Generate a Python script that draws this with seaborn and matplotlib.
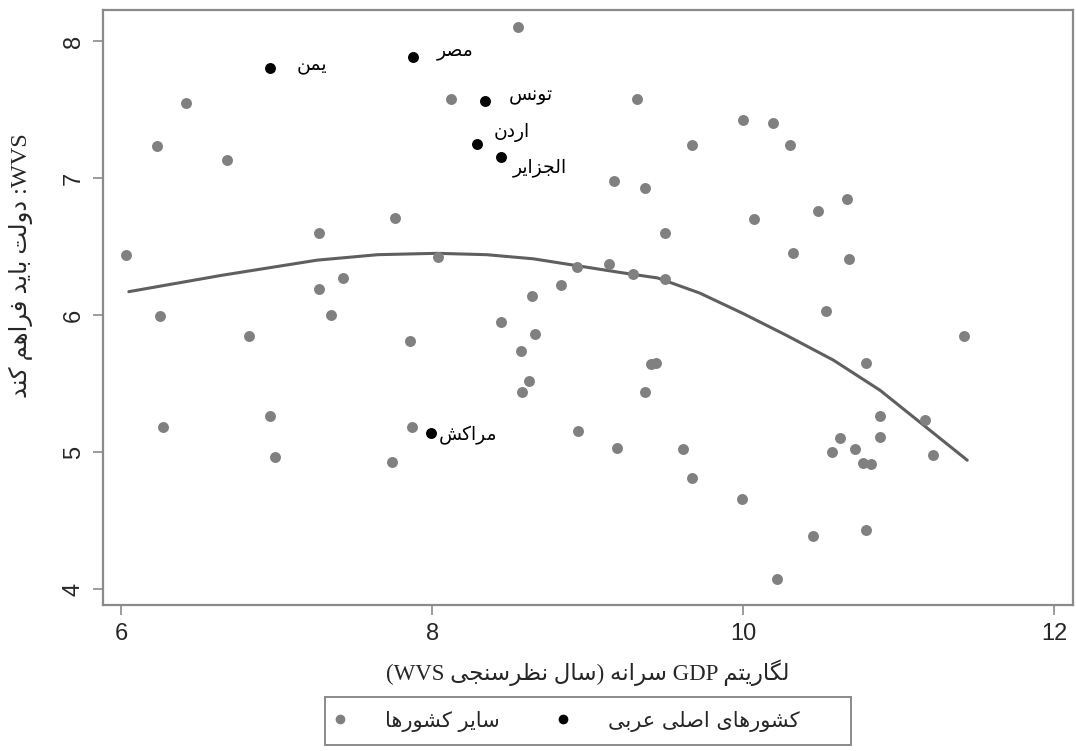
import re
import numpy as np
import pandas as pd
import matplotlib
matplotlib.use("Agg")
import matplotlib.pyplot as plt
from matplotlib.lines import Line2D
from matplotlib.patches import Rectangle
import seaborn as sns

# ---------------- data ----------------
other_x = [6.03, 6.23, 6.42, 6.25, 6.27, 6.68, 6.82, 6.96, 6.99, 7.27, 7.27, 7.43, 7.35,
           7.76, 7.86, 7.74, 7.87, 8.12, 8.04, 8.55, 8.44, 8.64, 8.57, 8.66, 8.62, 8.58,
           8.83, 8.94, 8.93, 9.14, 9.17, 9.19, 9.29, 9.32, 9.37, 9.37, 9.41, 9.44, 9.50,
           9.50, 9.61, 9.67, 9.67, 9.99, 10.00, 10.07, 10.19, 10.22, 10.30, 10.32, 10.45,
           10.48, 10.53, 10.57, 10.62, 10.67, 10.68, 10.72, 10.77, 10.82, 10.88, 10.88,
           10.79, 10.79, 11.17, 11.22, 11.42]
other_y = [6.44, 7.23, 7.55, 5.99, 5.18, 7.13, 5.85, 5.26, 4.96, 6.60, 6.19, 6.27, 6.00,
           6.71, 5.81, 4.93, 5.18, 7.58, 6.42, 8.10, 5.95, 6.14, 5.74, 5.86, 5.52, 5.44,
           6.22, 5.15, 6.35, 6.37, 6.98, 5.03, 6.30, 7.58, 6.93, 5.44, 5.64, 5.65, 6.60,
           6.26, 5.02, 7.24, 4.81, 4.66, 7.42, 6.70, 7.40, 4.07, 7.24, 6.45, 4.39,
           6.76, 6.03, 5.00, 5.10, 6.85, 6.41, 5.02, 4.92, 4.91, 5.26, 5.11,
           5.65, 4.43, 5.23, 4.98, 5.85]

arab_names = ["یمن", "مصر", "تونس", "اردن", "الجزایر", "مراکش"]
arab_x = [6.96, 7.88, 8.34, 8.29, 8.44, 7.99]
arab_y = [7.80, 7.88, 7.56, 7.25, 7.15, 5.14]

fit_x = [6.05, 6.65, 7.26, 7.65, 8.03, 8.35, 8.65, 8.93, 9.21, 9.45, 9.72, 10.00, 10.28,
         10.58, 10.88, 11.44]
fit_y = [6.17, 6.29, 6.40, 6.44, 6.45, 6.44, 6.41, 6.36, 6.31, 6.27, 6.16, 6.01, 5.85,
         5.67, 5.45, 4.94]

x_ticks = [6, 8, 10, 12]
y_ticks = [4, 5, 6, 7, 8]

x_title = "لگاریتم GDP سرانه (سال نظرسنجی WVS)"
y_title = "WVS: دولت باید فراهم کند"
legend_other = "سایر کشورها"
legend_arab = "کشورهای اصلی عربی"

# ---------------- Arabic-script shaping (presentation forms + visual order) ----------------
FORMS = {
    "ا": ("\uFE8D", "\uFE8E"),
    "ب": ("\uFE8F", "\uFE90", "\uFE91", "\uFE92"),
    "ت": ("\uFE95", "\uFE96", "\uFE97", "\uFE98"),
    "ج": ("\uFE9D", "\uFE9E", "\uFE9F", "\uFEA0"),
    "د": ("\uFEA9", "\uFEAA"),
    "ر": ("\uFEAD", "\uFEAE"),
    "ز": ("\uFEAF", "\uFEB0"),
    "س": ("\uFEB1", "\uFEB2", "\uFEB3", "\uFEB4"),
    "ش": ("\uFEB5", "\uFEB6", "\uFEB7", "\uFEB8"),
    "ص": ("\uFEB9", "\uFEBA", "\uFEBB", "\uFEBC"),
    "ظ": ("\uFEC5", "\uFEC6", "\uFEC7", "\uFEC8"),
    "ع": ("\uFEC9", "\uFECA", "\uFECB", "\uFECC"),
    "ف": ("\uFED1", "\uFED2", "\uFED3", "\uFED4"),
    "ل": ("\uFEDD", "\uFEDE", "\uFEDF", "\uFEE0"),
    "م": ("\uFEE1", "\uFEE2", "\uFEE3", "\uFEE4"),
    "ن": ("\uFEE5", "\uFEE6", "\uFEE7", "\uFEE8"),
    "ه": ("\uFEE9", "\uFEEA", "\uFEEB", "\uFEEC"),
    "و": ("\uFEED", "\uFEEE"),
    "ی": ("\uFBFC", "\uFBFD", "\uFBFE", "\uFBFF"),
    "ک": ("\uFB8E", "\uFB8F", "\uFB90", "\uFB91"),
    "گ": ("\uFB92", "\uFB93", "\uFB94", "\uFB95"),
}


def shape(text):
    out = []
    n = len(text)
    for i, c in enumerate(text):
        if c not in FORMS:
            out.append(c)
            continue
        f = FORMS[c]
        jp = i > 0 and text[i - 1] in FORMS and len(FORMS[text[i - 1]]) == 4
        jn = i < n - 1 and text[i + 1] in FORMS and len(f) == 4
        if jp and jn:
            out.append(f[3])
        elif jp:
            out.append(f[1])
        elif jn:
            out.append(f[2])
        else:
            out.append(f[0])
    return "".join(out)


def rtl(text):
    return shape(text)[::-1]


def rtl_mixed(text):
    tokens = re.findall(r"[A-Za-z]+|[^A-Za-z]+", text)
    vis = []
    for t in tokens:
        if re.match(r"[A-Za-z]+", t):
            vis.append(t)
        else:
            s = shape(t)[::-1]
            s = s.translate(str.maketrans("()", ")("))
            vis.append(s)
    return "".join(vis[::-1])


# ---------------- style ----------------
sns.set_theme(style="white")
plt.rcParams["font.family"] = ["DejaVu Sans"]

W, H = 1076, 751
fig = plt.figure(figsize=(W / 100, H / 100), dpi=100)
ax = fig.add_axes([103 / W, 1 - 605 / H, 970 / W, 595 / H])

grey = "#808080"
frame_col = "#8a8a8a"
df_o = pd.DataFrame({"x": other_x, "y": other_y})
df_a = pd.DataFrame({"x": arab_x, "y": arab_y})
df_f = pd.DataFrame({"x": fit_x, "y": fit_y})

sns.lineplot(data=df_f, x="x", y="y", ax=ax, color="#5f5f5f", linewidth=2.2,
             sort=False, estimator=None, zorder=2)
sns.scatterplot(data=df_o, x="x", y="y", ax=ax, color=grey, s=62, linewidth=0, zorder=3)
sns.scatterplot(data=df_a, x="x", y="y", ax=ax, color="black", s=62, linewidth=0, zorder=4)

offsets = [(19, 2), (17, 5), (17, 4), (12, 8), (9, -7), (6, -2)]
for name, xv, yv, off in zip(arab_names, arab_x, arab_y, offsets):
    ax.annotate(rtl(name), (xv, yv), xytext=off, textcoords="offset points",
                ha="left", va="center", fontsize=13.5, color="black",
                family=["DejaVu Sans"])

ax.set_xlim(5.884, 12.12)
ax.set_ylim(3.883, 8.226)
ax.set_xticks(x_ticks)
ax.set_yticks(y_ticks)
ax.set_xticklabels([str(t) for t in x_ticks], fontsize=17, family=["Liberation Sans"])
ax.set_yticklabels([str(t) for t in y_ticks], fontsize=17, family=["Liberation Sans"],
                   rotation=90, va="center")
ax.tick_params(axis="both", which="major", direction="out", length=7, width=1.2,
               color=frame_col, pad=6, bottom=True, left=True)

for sp in ax.spines.values():
    sp.set_color(frame_col)
    sp.set_linewidth(1.6)

ax.set_xlabel(rtl_mixed(x_title), fontsize=16.5, family=["Liberation Serif", "DejaVu Sans"],
              labelpad=10)
ax.set_ylabel(rtl_mixed(y_title), fontsize=17.5, family=["Liberation Serif", "DejaVu Sans"])
ax.yaxis.set_label_coords(-0.072, 0.571)

# legend (frame drawn as a figure rectangle)
fig.add_artist(Rectangle((325 / W, 1 - 745 / H), 526 / W, 48 / H, transform=fig.transFigure,
                         fill=False, edgecolor=frame_col, linewidth=1.4))
handles = [
    Line2D([], [], marker="o", linestyle="none", markersize=7, color=grey, markeredgewidth=0),
    Line2D([], [], marker="o", linestyle="none", markersize=7, color="black", markeredgewidth=0),
]
fs = 15
fig.legend(handles, [rtl(legend_other), rtl(legend_arab)], ncol=2,
           loc="center left", bbox_to_anchor=(335 / W, 1 - 721 / H),
           frameon=False, prop={"family": ["DejaVu Sans"], "size": fs},
           handlelength=0.5, borderpad=0, borderaxespad=0,
           handletextpad=1.9, columnspacing=2.8)

fig.savefig("out.png", dpi=100)
